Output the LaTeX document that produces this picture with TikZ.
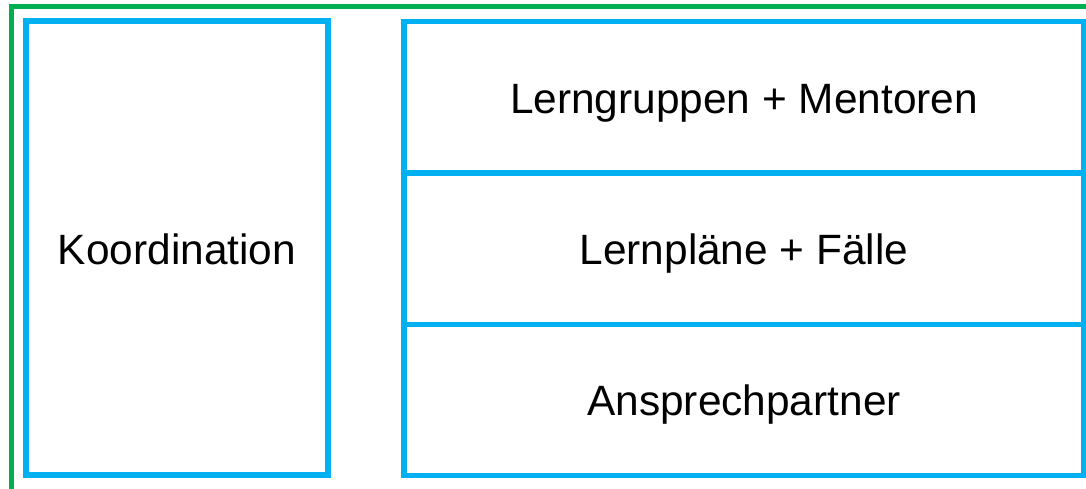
\documentclass[tikz,border=0pt]{standalone}
\usepackage{fontspec}
\setmainfont{Liberation Sans}
\usetikzlibrary{positioning}
\definecolor{rahmengruen}{RGB}{0,176,80}
\definecolor{feldblau}{RGB}{0,176,240}
\tikzset{
	feld/.style = {draw = feldblau, line width = 5.5pt, rectangle, outer sep = 0pt, inner sep = 0pt,
		text height = 32pt, text depth = 0pt, font = \fontsize{42.4}{50}\selectfont},
	zeile/.style = {feld, minimum width = 680pt, minimum height = 151.3pt}
}

\begin{document}
\begin{tikzpicture}[x = 1pt, y = -1pt]
		\useasboundingbox (0,0) rectangle (1086,489);
		\draw [rahmengruen, line width = 5pt] (11,6.5) rectangle (1089,491);
		\node [feld, minimum width = 302pt, minimum height = 453.5pt] (koord) at (177,248) {Koordination};
		\node [zeile] (lerngruppen) at (744,97.3) {Lerngruppen + Mentoren};
		\node [zeile, below = 0pt of lerngruppen] (lernplaene) {Lernpläne + Fälle};
		\node [zeile, below = 0pt of lernplaene] (ansprech) {Ansprechpartner};
	\end{tikzpicture}
\end{document}
